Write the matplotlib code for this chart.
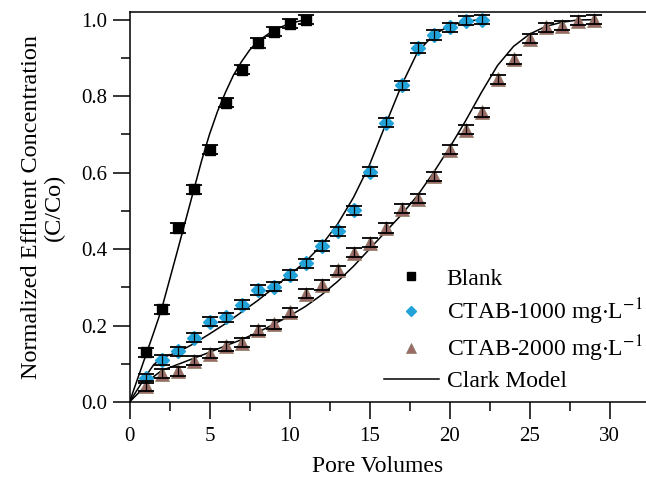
import numpy as np
import matplotlib
matplotlib.use("Agg")
import matplotlib.pyplot as plt

plt.rcParams.update({
    "font.family": "serif",
    "font.serif": ["Liberation Serif", "DejaVu Serif"],
    "mathtext.fontset": "stix",
    "axes.linewidth": 1.1,
    "xtick.direction": "out",
    "ytick.direction": "out",
    "xtick.major.size": 12,
    "ytick.major.size": 12,
    "xtick.minor.size": 6.5,
    "ytick.minor.size": 6.5,
    "xtick.major.width": 1.1,
    "ytick.major.width": 1.1,
    "xtick.minor.width": 1.1,
    "ytick.minor.width": 1.1,
})

# measured breakthrough data (C/Co vs pore volumes)
pv_blank = list(range(1, 12))
c_blank = [0.130, 0.242, 0.455, 0.556, 0.660, 0.783, 0.869, 0.939, 0.969, 0.989, 1.000]

pv_1000 = list(range(1, 23))
c_1000 = [0.062, 0.110, 0.133, 0.168, 0.210, 0.222, 0.255, 0.293, 0.302, 0.332,
          0.363, 0.408, 0.446, 0.501, 0.602, 0.731, 0.828, 0.926, 0.960, 0.980,
          0.997, 1.000]

pv_2000 = list(range(1, 30))
c_2000 = [0.042, 0.074, 0.080, 0.108, 0.126, 0.146, 0.155, 0.188, 0.203, 0.235,
          0.283, 0.306, 0.344, 0.390, 0.417, 0.455, 0.506, 0.532, 0.590, 0.660,
          0.712, 0.758, 0.844, 0.896, 0.950, 0.980, 0.984, 0.997, 1.000]

err = 0.012

# Clark model fits
clark_blank_x = [0, 1, 1.5, 2, 3, 4, 4.5, 5, 5.5, 6, 6.5, 7, 7.5, 8, 9, 10, 11]
clark_blank_y = [0, 0.12, 0.18, 0.242, 0.396, 0.552, 0.63, 0.70, 0.76, 0.81,
                 0.855, 0.89, 0.92, 0.943, 0.972, 0.99, 1.0]

clark_1000_x = [0, 0.5, 1, 1.5, 2, 3, 4, 5, 6, 7, 8, 9, 10, 11, 12, 13, 14, 15,
                16, 17, 18, 19, 20, 21, 22]
clark_1000_y = [0, 0.033, 0.066, 0.097, 0.115, 0.13, 0.152, 0.178, 0.205, 0.235,
                0.265, 0.298, 0.332, 0.367, 0.41, 0.465, 0.535, 0.62, 0.725,
                0.828, 0.915, 0.96, 0.984, 0.996, 1.0]

clark_2000_x = [0, 1, 1.5, 2, 3, 4, 5, 6, 7, 8, 9, 10, 11, 12, 13, 14, 15, 16,
                17, 18, 19, 20, 21, 22, 23, 24, 25, 26, 27, 28, 29]
clark_2000_y = [0, 0.042, 0.066, 0.082, 0.098, 0.114, 0.13, 0.147, 0.163, 0.182,
                0.203, 0.225, 0.25, 0.28, 0.315, 0.355, 0.40, 0.445, 0.49, 0.54,
                0.60, 0.665, 0.735, 0.81, 0.88, 0.93, 0.962, 0.982, 0.993,
                0.999, 1.0]

BLUE = "#22a2d8"
BROWN = "#9c6a66"

W, H = 646, 479
fig = plt.figure(figsize=(W / 100, H / 100), dpi=100)
# right spine sits just past the image edge
ax = fig.add_axes([129.5 / W, (H - 402) / H, 520 / W, 390 / H])

for x, y in [(clark_blank_x, clark_blank_y), (clark_1000_x, clark_1000_y),
             (clark_2000_x, clark_2000_y)]:
    ax.plot(x, y, color="black", lw=1.1, zorder=2)

h_blank, = ax.plot(pv_blank, c_blank, ls="none", marker="s", ms=7.5,
                   color="black", zorder=3)
h_1000, = ax.plot(pv_1000, c_1000, ls="none", marker="D", ms=7,
                  color=BLUE, mec=BLUE, zorder=3)
h_2000, = ax.plot(pv_2000, c_2000, ls="none", marker="^", ms=9.5,
                  color=BROWN, mec="#8a7a60", mew=0.5, zorder=3)
for x, y in [(pv_blank, c_blank), (pv_1000, c_1000), (pv_2000, c_2000)]:
    ax.errorbar(x, y, yerr=err, fmt="none", ecolor="black", elinewidth=0.9,
                capsize=6, capthick=1.3, zorder=4)
h_clark, = ax.plot([], [], color="black", lw=1.1)

ax.set_xlim(0, 32.5)
ax.set_ylim(0, 1.02)
ax.set_xticks(np.arange(0, 31, 5))
ax.set_xticks(np.arange(2.5, 32.5, 5), minor=True)
ax.set_yticks(np.arange(0, 1.01, 0.2))
ax.set_yticks(np.arange(0.1, 1.0, 0.2), minor=True)
ax.yaxis.set_major_formatter(matplotlib.ticker.FormatStrFormatter("%.1f"))
ax.tick_params(labelsize=15, pad=4)
ax.tick_params(axis="x", pad=6)

fig.text(378 / W, 1 - 466 / H, "Pore Volumes", fontsize=17,
         ha="center", va="center")
fig.text(43 / W, 1 - 207 / H, "Normalized Effluent Concentration\n(C/Co)",
         fontsize=17.5, rotation=90, ha="center", va="center",
         multialignment="center", linespacing=1.1)

ax.legend([h_blank, h_1000, h_2000, h_clark],
          ["Blank", "CTAB-1000 mg$\\cdot$L$^{-1}$",
           "CTAB-2000 mg$\\cdot$L$^{-1}$", "Clark Model"],
          loc="upper left", bbox_to_anchor=(254 / 520, 1 - (268 - 12) / 390),
          frameon=False, fontsize=17, handlelength=2.35, handletextpad=0.33,
          labelspacing=0.28, borderpad=0, borderaxespad=0, markerscale=0.8)

fig.savefig("out.png", dpi=100)
